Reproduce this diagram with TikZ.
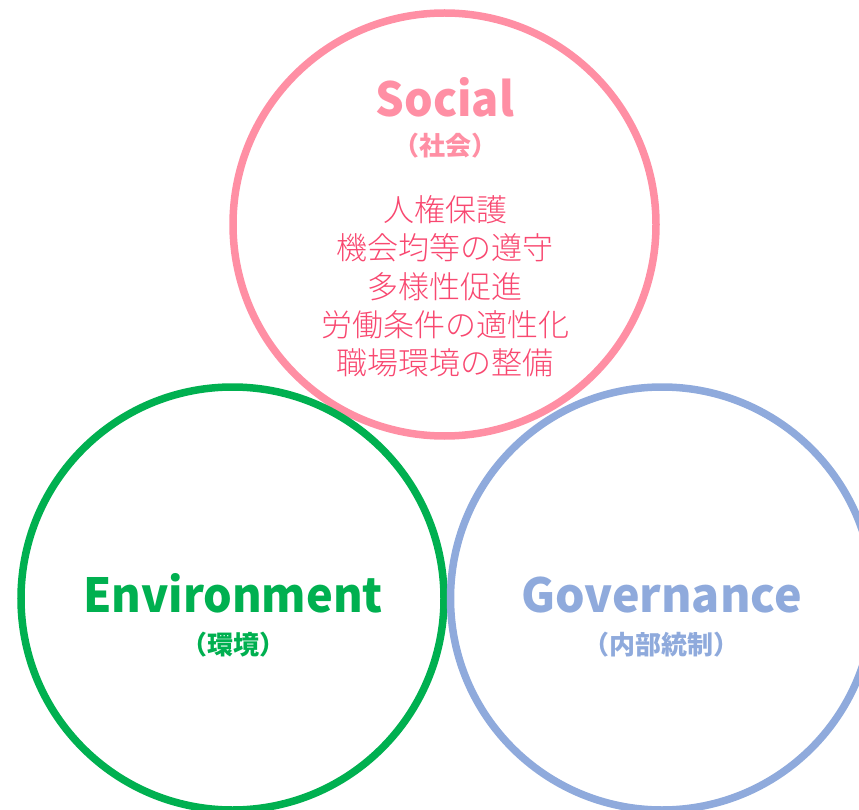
\documentclass[tikz,border=0pt]{standalone}
\usepackage{fontspec}
\newfontfamily\jp{Noto Sans CJK JP}
\newfontfamily\jpnarrow{Noto Sans CJK JP}[FakeStretch=0.96]
\newfontfamily\jpgov{Noto Sans CJK JP}[FakeStretch=0.99]
\newfontfamily\jplight{Noto Sans CJK JP Light}
\definecolor{ringpink}{RGB}{255,143,164}
\definecolor{textpink}{RGB}{248,72,112}
\definecolor{esggreen}{RGB}{0,176,80}
\definecolor{esgblue}{RGB}{143,170,220}
\tikzset{
  ring/.style={circle, draw, line width=7.5pt, minimum size=423pt, inner sep=0pt},
  titletext/.style={font=\jpnarrow\bfseries\fontsize{47}{47}\selectfont, inner sep=0pt, anchor=base},
  govtitle/.style={font=\jpgov\bfseries\fontsize{47}{47}\selectfont, inner sep=0pt, anchor=base},
  subtext/.style={font=\jp\bfseries\fontsize{26}{26}\selectfont, inner sep=0pt, anchor=base},
  listtext/.style={font=\jplight\fontsize{31}{38.3}\selectfont, inner sep=0pt, align=center, anchor=center}
}
\begin{document}
\begin{tikzpicture}[x=1pt,y=-1pt]
\useasboundingbox (0,0) rectangle (859,810);
\node[ring, draw=ringpink] (soc) at (444.5,224.5) {};
\node[ring, draw=esggreen] (env) at (232.5,598.5) {};
\node[ring, draw=esgblue] (gov) at (662,598.5) {};
\node[titletext, text=ringpink] (socT) at (445,117) {Social};
\node[subtext, text=ringpink] (socS) at (445,156) {（社会）};
\node[listtext, text=textpink] (socL) at (445,286.5) {人権保護\\機会均等の遵守\\多様性促進\\労働条件の適性化\\職場環境の整備};
\node[titletext, text=esggreen] (envT) at (233,612) {Environment};
\node[subtext, text=esggreen] (envS) at (233,654) {（環境）};
\node[govtitle, text=esgblue] (govT) at (661.5,612) {Governance};
\node[subtext, text=esgblue] (govS) at (661.5,654) {（内部統制）};
\end{tikzpicture}
\end{document}
